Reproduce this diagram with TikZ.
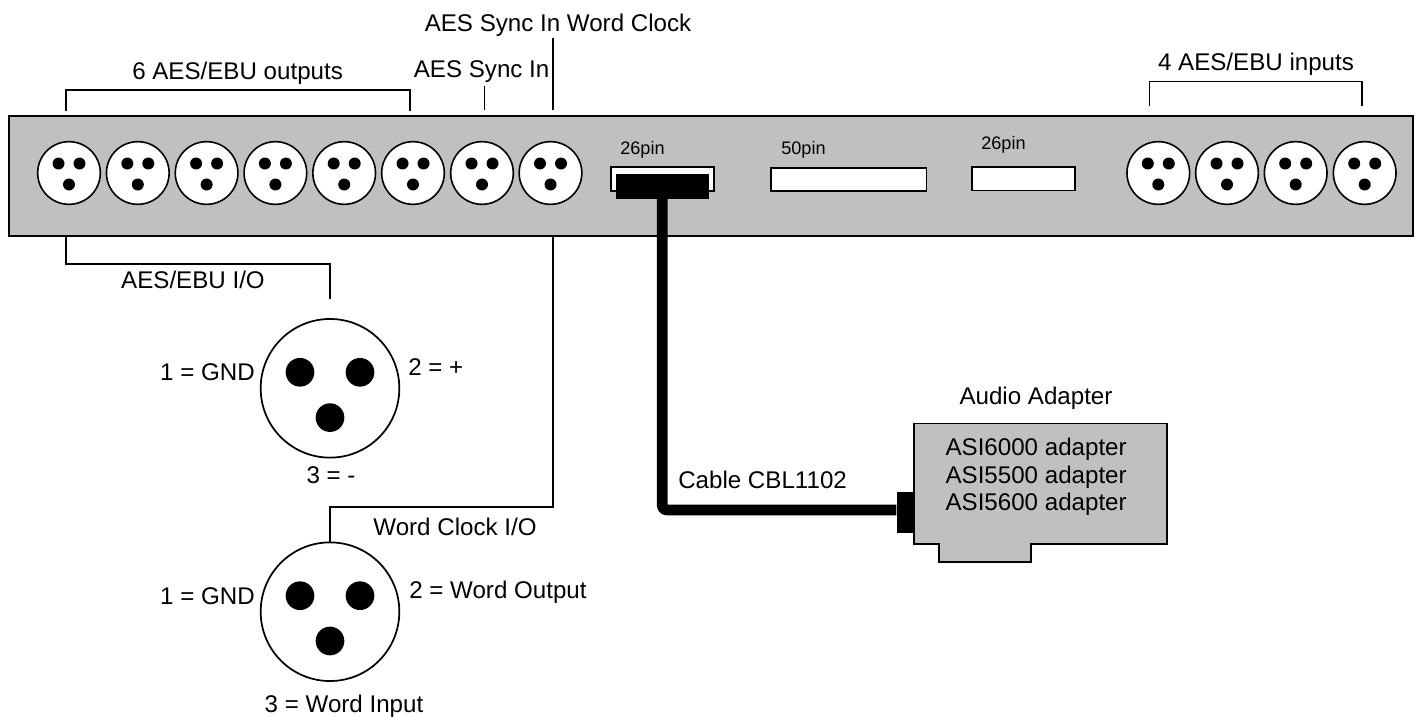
\documentclass[tikz,border=0pt]{standalone}
\usepackage{fontspec}
\setmainfont{Liberation Sans}
\definecolor{panel}{HTML}{C0C0C0}
\tikzset{
  x=0.75pt,y=-0.75pt,
  lbl/.style={inner sep=0pt,font=\fontsize{18.1pt}{20.6pt}\selectfont,text=black},
  smalllbl/.style={inner sep=0pt,font=\fontsize{13.6pt}{16pt}\selectfont,text=black},
  wire/.style={draw=black,line width=1.2pt},
  sock/.style={circle,draw=black,fill=white,line width=1.2pt,minimum size=47pt,inner sep=0pt},
  bigsock/.style={circle,draw=black,fill=white,line width=1.3pt,minimum size=104pt,inner sep=0pt},
  slot/.style={draw=black,fill=white,line width=1.3pt},
  hole/.style={circle,fill=black,draw=none,minimum size=9pt,inner sep=0pt},
  bighole/.style={circle,fill=black,draw=none,minimum size=21.5pt,inner sep=0pt},
  cable/.style={draw=black,line width=8pt,rounded corners=3pt,line join=round},
}
\newcommand{\smallsock}[2]{%
  \node[sock] (s#1) at (#2,173) {};
  \node[hole] (s#1a) at (#2-10.5,163.5) {};
  \node[hole] (s#1b) at (#2+10.5,163.5) {};
  \node[hole] (s#1c) at (#2,184.5) {};
}
\newcommand{\bigsocket}[3]{%
  \node[bigsock] (#1) at (#2,#3) {};
  \node[bighole] (#1a) at (#2-30,#3-16) {};
  \node[bighole] (#1b) at (#2+30,#3-16) {};
  \node[bighole] (#1c) at (#2,#3+29.3) {};
}
\begin{document}
\begin{tikzpicture}
\useasboundingbox (0,0) rectangle (1418,717);
\fill[white] (0,0) rectangle (1418,717);
% panel
\node[draw=black,fill=panel,line width=1.3pt,minimum width=1053pt,minimum height=90pt,inner sep=0pt] (panel) at (710.9,176) {};
% left sockets
\smallsock{1}{69}\smallsock{2}{137.8}\smallsock{3}{206.6}\smallsock{4}{275.4}
\smallsock{5}{344.2}\smallsock{6}{413}\smallsock{7}{482}\smallsock{8}{550.5}
% right sockets
\smallsock{9}{1158.3}\smallsock{10}{1227}\smallsock{11}{1295.7}\smallsock{12}{1364.7}
% slots
\node[slot,minimum width=77pt,minimum height=17.5pt,inner sep=0pt] (slotA) at (662.3,179) {};
\node[slot,minimum width=116.5pt,minimum height=17.5pt,inner sep=0pt] (slotB) at (848.8,179.3) {};
\node[slot,minimum width=77pt,minimum height=17.5pt,inner sep=0pt] (slotC) at (1023.3,178.8) {};
\node[smalllbl,anchor=west] (l26a) at (620,150) {26pin};
\node[smalllbl,anchor=west] (l50) at (781,150) {50pin};
\node[smalllbl,anchor=west] (l26b) at (981,145) {26pin};
% top brackets
\coordinate (b1) at (66,111); \coordinate (b2) at (66,90); \coordinate (b3) at (410,90); \coordinate (b4) at (410,111);
\draw[wire] (b1) -- (b2) -- (b3) -- (b4);
\coordinate (c1) at (1149.5,105.7); \coordinate (c2) at (1149.5,81.7); \coordinate (c3) at (1362,81.7); \coordinate (c4) at (1362,105.7);
\draw[wire] (c1) -- (c2) -- (c3) -- (c4);
\coordinate (d1) at (484.4,86); \coordinate (d2) at (484.4,110);
\draw[wire] (d1) -- (d2);
\coordinate (e1) at (553,38); \coordinate (e2) at (553,110);
\draw[wire] (e1) -- (e2);
\node[lbl] (t1) at (237.6,73) {6 AES/EBU outputs};
\node[lbl] (t2) at (481.6,71.5) {AES Sync In};
\node[lbl] (t3) at (558,25.5) {AES Sync In Word Clock};
\node[lbl] (t4) at (1256,64.5) {4 AES/EBU inputs};
% sockets below
\bigsocket{xa}{330}{388.3}
\bigsocket{xb}{330}{611.7}
\coordinate (f0) at (66,236); \coordinate (f1) at (66,264); \coordinate (f2) at (330,264); \coordinate (f3) at (330,299.3);
\draw[wire] (f0) -- (f1) -- (f2) -- (f3);
\coordinate (g0) at (553,236); \coordinate (g1) at (553,507); \coordinate (g2) at (330,507);
\draw[wire] (g0) -- (g1) -- (g2) -- (xb.north);
\node[lbl] (t5) at (193,280) {AES/EBU I/O};
\node[lbl] (t6) at (455,527) {Word Clock I/O};
\node[lbl,anchor=east] (t7) at (255,372) {1 = GND};
\node[lbl,anchor=west] (t8) at (408,367) {2 = +};
\node[lbl] (t9) at (331,475) {3 = -};
\node[lbl,anchor=east] (t10) at (255,596) {1 = GND};
\node[lbl,anchor=west] (t11) at (409,592) {2 = Word Output};
\node[lbl] (t12) at (344,706) {3 = Word Input};
% adapter
\draw[draw=black,fill=panel,line width=1.2pt] (914,423.3) -- (1166.7,423.3) -- (1166.7,544) -- (1031,544) -- (1031,561.7) -- (938.7,561.7) -- (938.7,544) -- (914,544) -- cycle;
\node[lbl,align=left,anchor=west] (t13) at (945.3,477) {ASI6000 adapter\\ASI5500 adapter\\ASI5600 adapter};
\node[lbl] (t14) at (1036,398) {Audio Adapter};
\node[fill=black,draw=none,minimum width=70pt,minimum height=18.7pt,inner sep=0pt] (plugA) at (662.3,186.5) {};
\node[fill=black,draw=none,minimum width=13.7pt,minimum height=31pt,inner sep=0pt] (plugB) at (905.8,512.3) {};
\coordinate (bend) at (662.3,510);
\coordinate (cableend) at (plugB.west |- bend);
\draw[cable] (plugA.south) -- (bend) -- (cableend);
\node[lbl,anchor=west] (t15) at (678,480) {Cable CBL1102};
\end{tikzpicture}
\end{document}
